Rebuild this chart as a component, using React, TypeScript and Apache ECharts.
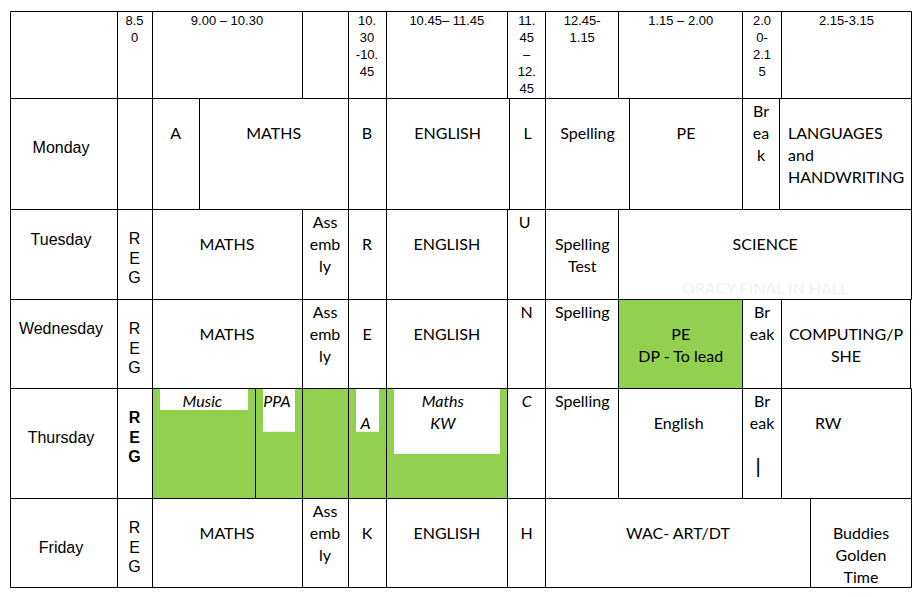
import React, { useEffect, useRef } from "react";
import * as echarts from "echarts";

// ---- timetable data (row bands and cell boundaries, in table units) ----
const rowEdges = [11.7, 98.3, 209.3, 299.3, 388.3, 498.3, 587.3];

const headerEdges = [10, 117, 152, 302, 348, 386, 507.7, 545.7, 618.7, 742.7, 781.3, 911.7];
const headerLabels = ["", "8.5\n0", "9.00 – 10.30", "", "10.\n30\n-10.\n45", "10.45– 11.45", "11.\n45\n–\n12.\n45", "12.45-\n1.15", "1.15 – 2.00", "2.0\n0-\n2.1\n5", "2.15-3.15"];

const mondayEdges = [10, 117, 152, 199.3, 348, 386, 509.3, 545.7, 629.3, 742.7, 779.3, 911.7];
const mondayLabels = ["Monday", "", "\nA", "\nMATHS", "\nB", "\nENGLISH", "\nL", "\nSpelling", "\nPE", "Br\nea\nk", "\nLANGUAGES\nand\nHANDWRITING"];

const tuesdayEdges = [10, 117, 152, 302, 348, 386, 507.7, 545.7, 618.7, 911.7];
const tuesdayLabels = ["Tuesday", "R\nE\nG", "\nMATHS", "Ass\nemb\nly", "\nR", "\nENGLISH", "U", "\nSpelling\nTest", "\nSCIENCE"];

const wednesdayEdges = [10, 117, 152, 302, 348, 386, 507.7, 545.7, 618.7, 742.7, 781.3, 910.7];
const wednesdayLabels = ["Wednesday", "R\nE\nG", "\nMATHS", "Ass\nemb\nly", "\nE", "\nENGLISH", "N", "Spelling", "\nPE\nDP - To lead", "Br\neak", "\nCOMPUTING/P\nSHE"];

const thursdayEdges = [10, 117, 152, 255.7, 302, 348, 386, 507.7, 545.7, 618.7, 742.7, 781.3, 911.7];
const thursdayLabels = ["Thursday", "R\nE\nG", "Music", "PPA", "", "\nA", "Maths\nKW", "C", "Spelling", "\nEnglish", "Br\neak\n\n|", "\nRW"];

const fridayEdges = [10, 117, 152, 302, 348, 386, 507.7, 545.7, 810.3, 911.7];
const fridayLabels = ["Friday", "R\nE\nG", "\nMATHS", "Ass\nemb\nly", "\nK", "\nENGLISH", "\nH", "\nWAC- ART/DT", "\nBuddies\nGolden\nTime"];

// highlighted (green) cells: [row, cell]
const greenCells = [[3, 8], [4, 2], [4, 3], [4, 4], [4, 5], [4, 6]];
// white label boxes inside Thursday's green block: [x0, x1, yBottom]
const thursdayBoxes = [[160, 248, 410], [263, 295, 431.7], [356, 379, 431.7], [394, 500, 454]];
// faint note: [row, cell, line, text]
const faintNotes: [number, number, number, string][] = [[2, 8, 3, "ORACY FINAL IN HALL"]];

// ---- presentation (kept apart from the data) ----
const GREEN = "#92D050";
const ARIAL = "'Liberation Sans', Arial, sans-serif";
const COMIC = "'Comic Sans MS', Lato, sans-serif";
const dayOffsets = [0, 48.7, 30, 29, 49, 49];
const italicCells = [[4, 2], [4, 3], [4, 5], [4, 6], [4, 7]];
const boldCells = [[4, 1]];
const leftAligned: [number, number, number][] = [[1, 10, 788], [4, 11, 815]];
const xNudge: [number, number, number][] = [[4, 6, -4], [4, 3, -2], [4, 2, -1.5], [4, 5, -1.5], [4, 9, -2], [2, 6, -2]];

const rowsEdges = [headerEdges, mondayEdges, tuesdayEdges, wednesdayEdges, thursdayEdges, fridayEdges];
const rowsLabels = [headerLabels, mondayLabels, tuesdayLabels, wednesdayLabels, thursdayLabels, fridayLabels];

type Cell = { r: number; c: number; x0: number; x1: number; y0: number; y1: number; label: string };

function buildCells(): Cell[] {
  const out: Cell[] = [];
  rowsEdges.forEach((edges, r) => {
    for (let c = 0; c < edges.length - 1; c++) {
      out.push({ r, c, x0: edges[c], x1: edges[c + 1], y0: rowEdges[r], y1: rowEdges[r + 1], label: rowsLabels[r][c] ?? "" });
    }
  });
  return out;
}

const has = (list: number[][], r: number, c: number) => list.some((p) => p[0] === r && p[1] === c);

export default function App() {
  const ref = useRef<HTMLDivElement>(null);
  useEffect(() => {
    if (!ref.current) return;
    const chart = echarts.init(ref.current, undefined, { renderer: "svg" });
    const cells = buildCells();
    const cellData = cells.map((c, i) => [c.x0, c.y0, c.x1, c.y1, i]);
    const px = (v: number) => Math.floor(v) + 0.5;

    const fillSeries = {
      type: "custom",
      silent: true,
      z: 1,
      clip: false,
      data: cellData,
      renderItem: (params: any, api: any) => {
        const cell = cells[params.dataIndex];
        const a = api.coord([cell.x0, cell.y0]);
        const b = api.coord([cell.x1, cell.y1]);
        const fill = has(greenCells, cell.r, cell.c) ? GREEN : "#ffffff";
        return {
          type: "rect",
          shape: { x: px(a[0]), y: px(a[1]), width: px(b[0]) - px(a[0]), height: px(b[1]) - px(a[1]) },
          style: { fill },
        };
      },
    };

    const boxSeries = {
      type: "custom",
      silent: true,
      z: 2,
      clip: false,
      data: thursdayBoxes.map((b) => [b[0], rowEdges[4], b[1], b[2]]),
      renderItem: (params: any, api: any) => {
        const a = api.coord([api.value(0), api.value(1)]);
        const b = api.coord([api.value(2), api.value(3)]);
        return {
          type: "rect",
          shape: { x: a[0], y: a[1], width: b[0] - a[0], height: b[1] - a[1] },
          style: { fill: "#ffffff" },
        };
      },
    };

    const borderSeries = {
      type: "custom",
      silent: true,
      z: 3,
      clip: false,
      data: cellData,
      renderItem: (params: any, api: any) => {
        const cell = cells[params.dataIndex];
        const a = api.coord([cell.x0, cell.y0]);
        const b = api.coord([cell.x1, cell.y1]);
        return {
          type: "rect",
          shape: { x: px(a[0]), y: px(a[1]), width: px(b[0]) - px(a[0]), height: px(b[1]) - px(a[1]) },
          style: { fill: "none", stroke: "#000000", lineWidth: 1 },
        };
      },
    };

    const textSeries = {
      type: "custom",
      silent: true,
      z: 4,
      clip: false,
      data: cellData,
      renderItem: (params: any, api: any) => {
        const cell = cells[params.dataIndex];
        const children: any[] = [];
        let lh = 22, first = 11.7, family = COMIC, size = 16;
        if (cell.r === 0) { lh = 17.2; first = 8.4; family = ARIAL; size = 13; }
        else if (cell.c === 0) { lh = 0; first = dayOffsets[cell.r]; family = ARIAL; size = 16; }
        else if (cell.c === 1) { lh = 19.5; first = 29.5; family = ARIAL; size = 16; }
        const weight = has(boldCells, cell.r, cell.c) ? "bold" : "normal";
        const fstyle = has(italicCells, cell.r, cell.c) ? "italic" : "normal";
        const left = leftAligned.find((p) => p[0] === cell.r && p[1] === cell.c);
        const nudge = xNudge.find((p) => p[0] === cell.r && p[1] === cell.c);
        let cx = cell.c === 0 && cell.r > 0 ? 61 : (cell.x0 + cell.x1) / 2;
        if (nudge) cx += nudge[2];
        const align = left ? "left" : "center";
        if (left) cx = left[2];
        const lines = cell.label.split("\n");
        lines.forEach((t, i) => {
          if (!t) return;
          const p = api.coord([cx, cell.y0 + first + i * lh]);
          const isBar = t === "|";
          children.push({
            type: "text",
            x: isBar ? Math.round(p[0] - 4) : p[0],
            y: p[1],
            style: {
              text: t,
              fill: "#000000",
              fontFamily: isBar ? ARIAL : family,
              fontSize: isBar ? 20 : size,
              fontWeight: weight,
              fontStyle: fstyle,
              align,
              verticalAlign: "middle",
            },
          });
        });
        faintNotes.forEach((n) => {
          if (n[0] === cell.r && n[1] === cell.c) {
            const p = api.coord([(cell.x0 + cell.x1) / 2, cell.y0 + first + n[2] * lh]);
            children.push({
              type: "text",
              x: p[0],
              y: p[1],
              style: { text: n[3], fill: "#f1f1f1", fontFamily: COMIC, fontSize: 16, align: "center", verticalAlign: "middle" },
            });
          }
        });
        return { type: "group", children };
      },
    };

    chart.setOption({
      animation: false,
      backgroundColor: "#ffffff",
      grid: { left: 0, right: 0, top: 0, bottom: 0 },
      xAxis: { type: "value", min: 0, max: 922, show: false },
      yAxis: { type: "value", min: 0, max: 597, inverse: true, show: false },
      series: [fillSeries, boxSeries, borderSeries, textSeries],
    } as any);
    return () => chart.dispose();
  }, []);
  return <div ref={ref} style={{ position: "absolute", left: 0, top: 0, width: 922, height: 597, background: "#fff" }} />;
}
